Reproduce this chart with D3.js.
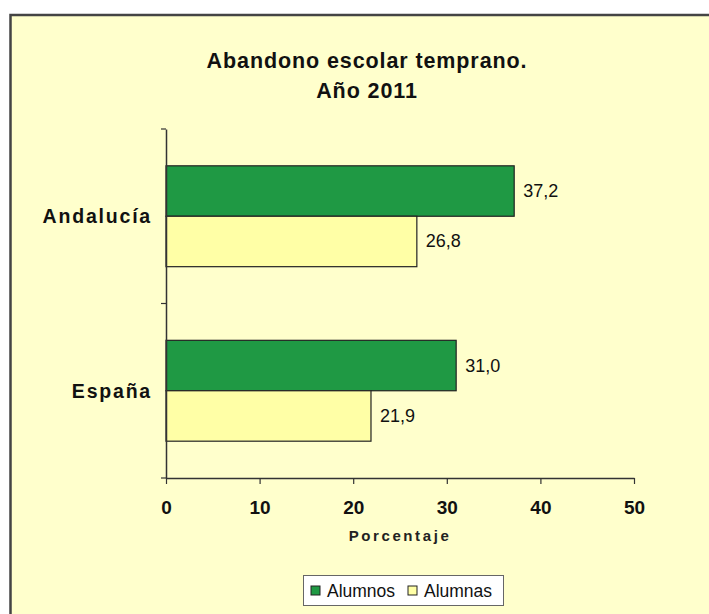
<!DOCTYPE html>
<html><head><meta charset="utf-8">
<script src="https://cdn.jsdelivr.net/npm/d3@7"></script>
<style>body{margin:0;background:#fff;}svg{display:block;font-family:"Liberation Sans",Arial,sans-serif;}</style>
</head><body>
<svg id="c" width="709" height="614"></svg>
<script>
const categories = ["Andalucía", "España"];
const seriesNames = ["Alumnos", "Alumnas"];
const alumnos = [37.2, 31.0];
const alumnas = [26.8, 21.9];
const xTicks = [0, 10, 20, 30, 40, 50];
const titleLines = ["Abandono escolar temprano.", "Año 2011"];
const xLabel = "Porcentaje";
const colors = ["#1F9944", "#FFFFA6"];

const svg = d3.select("#c");
// frame
svg.append("rect").attr("x", 10.5).attr("y", 15).attr("width", 740).attr("height", 640)
  .attr("fill", "#FFFFCC").attr("stroke", "#444").attr("stroke-width", 2.5);

svg.selectAll("text.title").data(titleLines).enter().append("text")
  .attr("x", 367).attr("y", (d, i) => 68 + i * 30)
  .attr("text-anchor", "middle").attr("font-weight", "bold").attr("font-size", 21.5)
  .attr("letter-spacing", 0.9)
  .attr("fill", "#111").text(d => d);

const x = d3.scaleLinear().domain([0, 50]).range([166, 634]);
const y = d3.scaleBand().domain(categories).range([129, 478]);
const inner = d3.scaleBand().domain(seriesNames).range([0, y.bandwidth()]).paddingOuter(0.73).paddingInner(0);

const g = svg.append("g");
const rows = categories.map((c, i) => ({ c, vals: [alumnos[i], alumnas[i]] }));
rows.forEach(r => {
  r.vals.forEach((v, j) => {
    const s = seriesNames[j];
    g.append("rect").attr("x", x(0)).attr("y", y(r.c) + inner(s))
      .attr("width", x(v) - x(0)).attr("height", inner.bandwidth())
      .attr("fill", colors[j]).attr("stroke", "#222").attr("stroke-width", 1.2);
    g.append("text").attr("x", x(v) + 9).attr("y", y(r.c) + inner(s) + inner.bandwidth() / 2 + 6)
      .attr("font-size", 18).attr("fill", "#111").text(d3.format(".1f")(v).replace(".", ","));
  });
});

// y axis
const yAxis = d3.axisLeft(y).tickSize(0).tickFormat("");
const ya = svg.append("g").attr("transform", `translate(${x(0)},0)`).call(yAxis);
ya.select(".domain").attr("stroke", "#333").attr("stroke-width", 1.5);
// band boundary ticks
const bounds = [y.range()[0], y(categories[1]), y.range()[1]];
svg.selectAll("line.yb").data(bounds).enter().append("line")
  .attr("x1", x(0) - 5).attr("x2", x(0)).attr("y1", d => d).attr("y2", d => d)
  .attr("stroke", "#333").attr("stroke-width", 1.2);
svg.selectAll("text.cat").data(categories).enter().append("text")
  .attr("x", 152).attr("y", d => y(d) + y.bandwidth() / 2 + 7)
  .attr("text-anchor", "end").attr("font-weight", "bold").attr("font-size", 19.5)
  .attr("letter-spacing", 1.8).attr("fill", "#111").text(d => d);

// x axis
const xa = svg.append("g").attr("transform", `translate(0,478)`)
  .call(d3.axisBottom(x).tickValues(xTicks).tickSize(6).tickSizeOuter(0).tickPadding(17));
xa.select(".domain").attr("stroke", "#333").attr("stroke-width", 1.5);
xa.selectAll(".tick line").attr("stroke", "#333").attr("stroke-width", 1.2);
xa.selectAll(".tick text").attr("font-size", 19).attr("font-weight", "bold").attr("fill", "#111")
  .attr("font-family", "Liberation Sans, Arial, sans-serif");

svg.append("text").attr("x", 400).attr("y", 541).attr("text-anchor", "middle")
  .attr("font-size", 15).attr("font-weight", "bold").attr("letter-spacing", 2.6)
  .attr("fill", "#222").text(xLabel);

// legend
const lg = svg.append("g");
lg.append("rect").attr("x", 303.5).attr("y", 575.5).attr("width", 200).attr("height", 30)
  .attr("fill", "#fff").attr("stroke", "#666").attr("stroke-width", 1);
const legX = [311, 408];
seriesNames.forEach((s, i) => {
  lg.append("rect").attr("x", legX[i]).attr("y", 586).attr("width", 9).attr("height", 9)
    .attr("fill", colors[i]).attr("stroke", "#222").attr("stroke-width", 1);
  lg.append("text").attr("x", legX[i] + 16).attr("y", 597).attr("font-size", 17.5)
    .attr("fill", "#111").text(s);
});
</script>
</body></html>
